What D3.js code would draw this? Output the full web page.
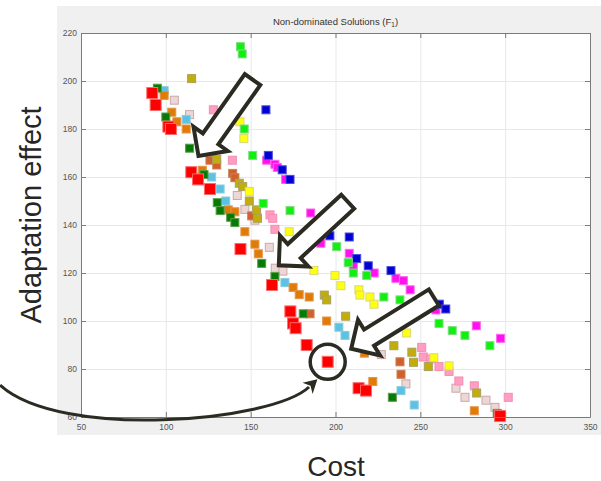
<!DOCTYPE html>
<html><head><meta charset="utf-8">
<script src="https://cdn.jsdelivr.net/npm/d3@7"></script>
<style>body{margin:0;background:#fff;} svg{display:block;}</style>
</head><body>
<svg id="c" width="601" height="481"></svg>
<script>
// ---- axis ticks ----
const xTicks = [50, 100, 150, 200, 250, 300, 350];
const yTicks = [60, 80, 100, 120, 140, 160, 180, 200, 220];

// ---- series: [cost, adaptation effect] ----
const red = [[92,195],[94,190],[101.5,181],[103,180],[115,162],[119,159],[126,155],[144,130],[162.6,115],[173.4,104],[175,99],[176.5,97],[183,90],[195.4,83],[213.6,72],[218,71],[297,60.4]];
const darkGreen = [[95,197],[100,185],[114,172],[122.5,161],[130.3,149.3],[132,146],[138.2,143.2],[140.7,141],[156.5,124],[164.3,118.5],[181,103],[233.5,68.2],[295.3,61.5]];
const lime = [[144,214.3],[145,211.3],[146.2,180],[151.2,169],[157.4,149],[173.2,146],[200.7,131],[207.5,124.3],[210.5,120],[218.4,119],[228.5,110],[238,108.8],[261,99],[268.8,96],[276.3,94],[291,89.7]];
const blue = [[159,188],[160.4,169],[168.6,163],[173.2,159],[196.7,135.5],[208.1,135],[212.5,126],[219.3,123],[232.7,121],[261.2,107],[265,105]];
const magenta = [[159.4,167],[164.3,165.3],[165.7,164],[170.6,159],[185.4,145],[191.4,132.4],[208.1,128.2],[210.5,123],[222.8,120],[235.6,117.8],[240,116.8],[244,113],[259.2,104.6],[283,98],[297.3,92.8]];
const yellow = [[143.7,183],[146,176],[149.2,154],[172.7,137.2],[187.3,121],[199.7,119],[203.2,114.7],[213.8,113],[214.4,110.8],[220.3,110],[222.7,107],[241.9,95],[258,84.7],[266.9,81.3]];
const olive = [[115.2,201],[130,167.4],[143.3,157.4],[145.3,156],[149.2,150],[153.5,146.3],[154,142.8],[193.4,110.8],[194.8,108.8],[206,102],[234.4,89.7],[245,87],[246,82.8],[254.7,81],[283.2,70]];
const orange = [[99,194],[103.5,187],[106.5,183],[112,180],[121.5,162.8],[136.8,146.3],[140.7,145.5],[146.6,137.2],[152.5,132],[154.5,128],[175,114],[178.6,111],[184.5,110],[194.8,100],[217,86.6],[222,74.8],[281.8,62.6]];
const sienna = [[126,167],[130,165],[139.4,161.5],[140.7,159.7],[150.6,143.8],[185,103],[238,83],[238.6,77.8]];
const skyBlue = [[99,196],[112,184],[127,160],[132,155],[135.3,150],[170.2,116],[202,97.4],[205.6,94],[238.6,71],[246.4,65]];
const pink = [[128,188],[139.2,167],[161.4,144.2],[163,142.8],[164.3,138.2],[250.8,89],[251.7,85],[256.1,84.2],[261,81],[266.9,79],[272.7,75],[281.8,73],[301.8,68.2]];
const beige = [[105,192],[114,186],[142.1,152.3],[146.6,146.5],[152.5,142],[161,130.7],[164.5,122],[169,120.8],[227,86],[241.5,73.8],[271,72],[276.3,68.2],[288.7,67],[294,64]];

// ---- annotations (data units) ----
const arrowTails = [[151.1,200.6],[207.2,149.7],[258,109.8]];
const arrowTips  = [[118.4,167.9],[165.5,122.5],[208,87.9]];
const circled = [195.4,83];
const curve = [[2.3,73.3],[37.6,50.4],[162.6,57.9],[184.4,72.5]];
const curveTip = [188.9,75.4];

// ---- styles ----
const series = [
  {d:beige, fill:"#ecd6d6", stroke:"#c9a9a9", s:8},
  {d:pink, fill:"#ff9ec2", stroke:"#f28db2", s:8},
  {d:skyBlue, fill:"#5cc2e2", stroke:"#8ccbe2", s:8},
  {d:sienna, fill:"#d0602c", stroke:"#c98058", s:8},
  {d:orange, fill:"#e27a06", stroke:"#e2954a", s:8},
  {d:olive, fill:"#c2ae08", stroke:"#a8a060", s:8},
  {d:yellow, fill:"#ffff10", stroke:"#d9d77a", s:8},
  {d:magenta, fill:"#ff10ee", stroke:"#ff66f0", s:8},
  {d:blue, fill:"#0000d2", stroke:"#4a4ae0", s:8},
  {d:lime, fill:"#10f010", stroke:"#80dc80", s:8},
  {d:darkGreen, fill:"#067a06", stroke:"#5a9e4a", s:8},
  {d:red, fill:"#ff0000", stroke:"#ff6a6a", s:11}
];

const svg = d3.select("#c");
const x = d3.scaleLinear().domain([50,350]).range([81,590]);
const y = d3.scaleLinear().domain([60,220]).range([417,33]);
const font = "'Liberation Sans', Arial, sans-serif";

svg.append("rect").attr("x",57).attr("y",6).attr("width",544).attr("height",429).attr("fill","#f0f0f0");
svg.append("rect").attr("x",x(50)).attr("y",y(220)).attr("width",x(350)-x(50)).attr("height",y(60)-y(220)).attr("fill","#fff");

// grid
const ph = y(60)-y(220), pw = x(350)-x(50);
const gg = svg.append("g");
gg.append("g").attr("transform",`translate(0,${y(60)})`)
  .call(d3.axisBottom(x).tickValues(xTicks.slice(1,-1)).tickSize(-ph).tickFormat(""))
  .call(g=>{g.select(".domain").remove(); g.selectAll("line").attr("stroke","#e8e8e8");});
gg.append("g").attr("transform",`translate(${x(50)},0)`)
  .call(d3.axisLeft(y).tickValues(yTicks.slice(1,-1)).tickSize(-pw).tickFormat(""))
  .call(g=>{g.select(".domain").remove(); g.selectAll("line").attr("stroke","#e8e8e8");});

// points
series.forEach(sr=>{
  svg.append("g").selectAll("rect").data(sr.d).join("rect")
    .attr("x",d=>x(d[0])-sr.s/2).attr("y",d=>y(d[1])-sr.s/2)
    .attr("width",sr.s).attr("height",sr.s)
    .attr("fill",sr.fill).attr("stroke",sr.stroke).attr("stroke-width",1);
});

// axes box and ticks
function styleAxis(g){
  g.select(".domain").attr("stroke","#7a7a7a");
  g.selectAll(".tick line").attr("stroke","#7a7a7a");
  g.selectAll("text").attr("font-family",font).attr("font-size","8.5px").attr("fill","#555");
}
svg.append("g").attr("transform",`translate(0,${y(60)})`)
  .call(d3.axisBottom(x).tickValues(xTicks).tickSizeInner(-5).tickSizeOuter(0).tickPadding(7).tickFormat(d3.format("d")))
  .call(styleAxis);
svg.append("g").attr("transform",`translate(0,${y(220)})`)
  .call(d3.axisTop(x).tickValues(xTicks).tickSizeInner(-5).tickSizeOuter(0).tickFormat(""))
  .call(styleAxis);
svg.append("g").attr("transform",`translate(${x(50)},0)`)
  .call(d3.axisLeft(y).tickValues(yTicks).tickSizeInner(-5).tickSizeOuter(0).tickPadding(4).tickFormat(d3.format("d")))
  .call(styleAxis);
svg.append("g").attr("transform",`translate(${x(350)},0)`)
  .call(d3.axisRight(y).tickValues(yTicks).tickSizeInner(-5).tickSizeOuter(0).tickFormat(""))
  .call(styleAxis);

// title
const t = svg.append("text").attr("x",(x(50)+x(350))/2).attr("y",25).attr("text-anchor","middle")
  .attr("font-family",font).attr("font-size","9.5px").attr("fill","#333");
t.append("tspan").text("Non-dominated Solutions (F");
t.append("tspan").attr("font-size","6.5px").attr("dy","2").text("1");
t.append("tspan").attr("dy","-2").text(")");

// axis labels
svg.append("text").attr("x",336).attr("y",476).attr("text-anchor","middle")
  .attr("font-family",font).attr("font-size","28px").attr("fill","#262626").text("Cost");
svg.append("text").attr("transform","translate(41,215) rotate(-90)").attr("text-anchor","middle")
  .attr("font-family",font).attr("font-size","29px").attr("fill","#262626").text("Adaptation effect");

// block arrows
const ink = "#2b2b22";
function blockArrow(tail, tip){
  const tx=x(tail[0]), ty=y(tail[1]), hx=x(tip[0]), hy=y(tip[1]);
  const dx=hx-tx, dy=hy-ty, len=Math.hypot(dx,dy);
  const ux=dx/len, uy=dy/len, nx=-uy, ny=ux;
  const w=9.5, W=21, L=21, back=2.5;
  const px=hx-ux*back, py=hy-uy*back;
  const bx=px-ux*L, by=py-uy*L;
  const pts=[[tx+nx*w,ty+ny*w],[bx+nx*w,by+ny*w],[bx+nx*W,by+ny*W],[px,py],[bx-nx*W,by-ny*W],[bx-nx*w,by-ny*w],[tx-nx*w,ty-ny*w]];
  svg.append("polygon").attr("points",pts.map(p=>p.join(",")).join(" "))
    .attr("fill","#fff").attr("stroke",ink).attr("stroke-width",4).attr("stroke-linejoin","miter");
}
arrowTails.forEach((tl,i)=>blockArrow(tl, arrowTips[i]));

// circle
svg.append("circle").attr("cx",x(circled[0])).attr("cy",y(circled[1])).attr("r",17.5)
  .attr("fill","none").attr("stroke",ink).attr("stroke-width",3.5);

// curved arrow
const p = d3.path();
p.moveTo(x(curve[0][0]),y(curve[0][1]));
p.bezierCurveTo(x(curve[1][0]),y(curve[1][1]),x(curve[2][0]),y(curve[2][1]),x(curve[3][0]),y(curve[3][1]));
svg.append("path").attr("d",p.toString()).attr("fill","none").attr("stroke",ink).attr("stroke-width",3);
(function(){
  const bx=x(curve[3][0]), by=y(curve[3][1]), hx=x(curveTip[0]), hy=y(curveTip[1]);
  const dx=hx-bx, dy=hy-by, len=Math.hypot(dx,dy), ux=dx/len, uy=dy/len, nx=-uy, ny=ux;
  const hw=7.5, cx=bx-ux*2, cy=by-uy*2;
  const pts=[[hx+ux*1,hy+uy*1],[cx+nx*hw,cy+ny*hw],[bx+ux*2,by+uy*2],[cx-nx*hw,cy-ny*hw]];
  svg.append("polygon").attr("points",pts.map(q=>q.join(",")).join(" ")).attr("fill",ink);
})();
</script>
</body></html>
